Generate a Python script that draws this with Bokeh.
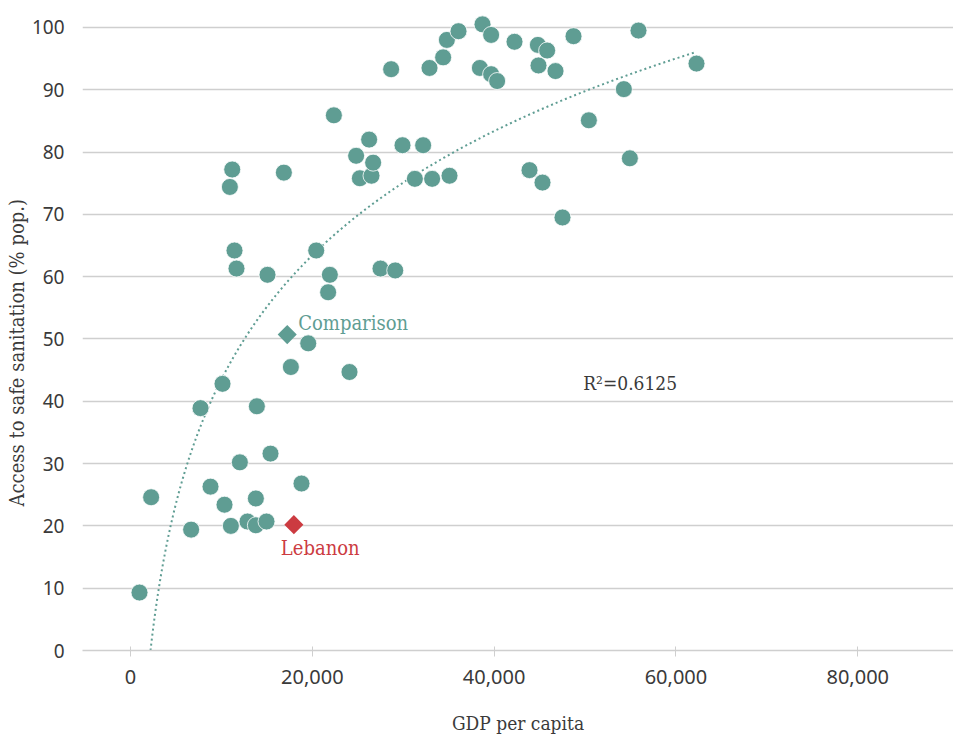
import numpy as np
from bokeh.plotting import figure
from bokeh.models import ColumnDataSource, Range1d, FixedTicker, NumeralTickFormatter, Label, Title
from bokeh.core.properties import value
from bokeh.embed import file_html
from bokeh.resources import INLINE

# ---- data ----
gdp = [990, 2270, 6670, 7700, 8800, 10120, 10340, 10930, 11040, 11190,
       11440, 11660, 12030, 12870, 13790, 13790, 13900, 14960, 15070, 15400,
       16870, 17640, 18810, 19550, 20430, 21740, 21930, 22370, 24090, 24820,
       25230, 26250, 26510, 26690, 27500, 28670, 29120, 29920, 31280, 32190,
       32890, 33180, 34390, 34800, 35090, 36080, 38430, 38720, 39670, 39670,
       40330, 42240, 43890, 44810, 44880, 45320, 45830, 46750, 47520, 48730,
       50420, 54270, 54930, 55880, 62260]
sanitation = [9.3, 24.6, 19.4, 38.9, 26.3, 42.8, 23.4, 74.4, 20.0, 77.2,
              64.2, 61.3, 30.2, 20.7, 20.1, 24.4, 39.2, 20.7, 60.3, 31.6,
              76.7, 45.5, 26.8, 49.3, 64.2, 57.5, 60.3, 85.9, 44.7, 79.4,
              75.8, 82.0, 76.2, 78.3, 61.3, 93.3, 61.0, 81.1, 75.7, 81.1,
              93.5, 75.7, 95.2, 98.0, 76.2, 99.4, 93.5, 100.5, 98.8, 92.5,
              91.4, 97.7, 77.1, 97.2, 93.9, 75.1, 96.3, 93.0, 69.5, 98.6,
              85.1, 90.1, 79.0, 99.5, 94.2]

comparison_name = ["Comparison"]
comparison_gdp = [17240]
comparison_san = [50.7]

lebanon_name = ["Lebanon"]
lebanon_gdp = [17970]
lebanon_san = [20.2]

r2_text = "R\u00b2=0.6125"
y_title = "Access to safe sanitation (% pop.)"
x_title = "GDP per capita"
x_ticks = [0, 20000, 40000, 60000, 80000]
y_ticks = [0, 10, 20, 30, 40, 50, 60, 70, 80, 90, 100]

TEAL = "#5f9d93"
RED = "#cc3b41"
GRID = "#cfcfcf"
TXT = "#3a3a3a"
SLAB = "'DejaVu Serif Condensed', 'DejaVu Serif'"
SANS = "Noto Sans"

# ---- logarithmic trend line fitted to the data ----
lx = np.log(np.array(gdp, dtype=float))
a, b = np.polyfit(lx, np.array(sanitation), 1)
x_start = max(min(gdp), float(np.exp(-b / a)))
tx = np.geomspace(x_start, max(gdp), 300)
ty = a * np.log(tx) + b

p = figure(width=953, height=736, output_backend="svg", toolbar_location=None,
           x_range=Range1d(-5280, 90530), y_range=Range1d(0, 102.08),
           min_border_left=82, min_border_right=0, min_border_top=14,
           min_border_bottom=85)
p.outline_line_color = None
p.background_fill_color = "white"
p.border_fill_color = "white"

p.xgrid.visible = False
p.ygrid.ticker = FixedTicker(ticks=y_ticks)
p.ygrid.grid_line_color = GRID
p.ygrid.grid_line_width = 1.3

# x axis
p.xaxis.ticker = FixedTicker(ticks=x_ticks)
p.xaxis.formatter = NumeralTickFormatter(format="0,0")
p.xaxis.axis_line_color = GRID
p.xaxis.axis_line_width = 1.3
p.xaxis.major_tick_line_color = GRID
p.xaxis.major_tick_in = 4
p.xaxis.major_tick_out = 6
p.xaxis.minor_tick_line_color = None
p.xaxis.major_label_text_font = SANS
p.xaxis.major_label_text_font_size = "20px"
p.xaxis.major_label_text_color = TXT
p.xaxis.major_label_standoff = 13
p.xaxis.axis_label = x_title
p.xaxis.axis_label_text_font = SLAB
p.xaxis.axis_label_text_font_size = "19px"
p.xaxis.axis_label_text_font_style = "normal"
p.xaxis.axis_label_text_color = TXT
p.xaxis.axis_label_standoff = 25

# y axis
p.yaxis.ticker = FixedTicker(ticks=y_ticks)
p.yaxis.axis_line_color = None
p.yaxis.major_tick_line_color = None
p.yaxis.minor_tick_line_color = None
p.yaxis.major_label_text_font = SANS
p.yaxis.major_label_text_font_size = "19px"
p.yaxis.major_label_text_color = TXT
p.yaxis.major_label_standoff = 12

# y-axis title as a side title, placed lower than the frame centre
p.add_layout(Title(text=y_title, align="left", offset=144, standoff=0,
                   text_font=SLAB, text_font_size="20px",
                   text_font_style="normal", text_color=TXT), "left")

# trend line
p.line(tx, ty, line_color=TEAL, line_width=2, line_dash="2 3")

# points
src = ColumnDataSource(dict(x=gdp, y=sanitation))
p.scatter("x", "y", source=src, size=17, fill_color=TEAL, line_color="white",
          line_width=0.8)

csrc = ColumnDataSource(dict(x=comparison_gdp, y=comparison_san, t=comparison_name))
p.scatter("x", "y", source=csrc, marker="square", angle=np.pi / 4, size=13.5,
          fill_color=TEAL, line_color=None)
p.text("x", "y", text="t", source=csrc, x_offset=11, y_offset=-12,
       text_font=value(SLAB), text_font_size="20px", text_color=TEAL,
       text_align="left", text_baseline="middle")

lsrc = ColumnDataSource(dict(x=lebanon_gdp, y=lebanon_san, t=lebanon_name))
p.scatter("x", "y", source=lsrc, marker="square", angle=np.pi / 4, size=13.5,
          fill_color=RED, line_color=None)
p.text("x", "y", text="t", source=lsrc, x_offset=-13, y_offset=23,
       text_font=value(SLAB), text_font_size="20px", text_color=RED,
       text_align="left", text_baseline="middle")

p.add_layout(Label(x=49800, y=43.0, text=r2_text, text_font=SLAB,
                   text_font_size="19px", text_color=TXT,
                   text_align="left", text_baseline="middle"))

open("out.html", "w").write(file_html(p, INLINE))
